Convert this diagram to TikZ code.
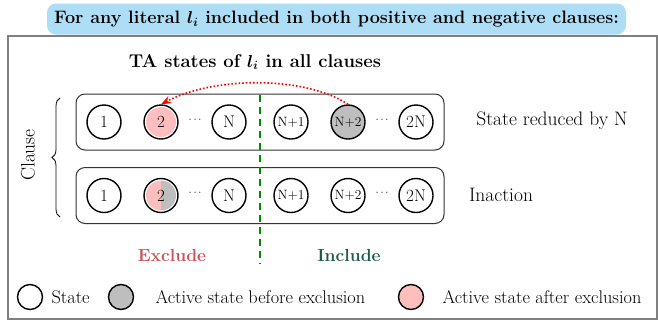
\documentclass[tikz,border=0pt]{standalone}
\usetikzlibrary{arrows.meta,decorations.pathreplacing}
\usepackage{amsmath,bm}
\definecolor{bannerblue}{RGB}{173,222,245}
\definecolor{actpink}{RGB}{255,190,190}
\definecolor{actgray}{RGB}{190,190,190}
\definecolor{exred}{RGB}{200,80,90}
\definecolor{ingreen}{RGB}{30,90,75}
\definecolor{divgreen}{RGB}{0,140,0}
\tikzset{
  state/.style={circle,draw,line width=1.4pt,minimum size=34pt,inner sep=0pt,
    font=\fontsize{17}{17}\selectfont},
  bigstate/.style={state,font=\fontsize{13.5}{13.5}\selectfont},
  keystate/.style={circle,draw,line width=1.4pt,minimum size=25pt,inner sep=0pt},
  rowbox/.style={draw=black!80,line width=1pt,rounded corners=9pt,
    minimum width=368pt,minimum height=56pt},
  label/.style={font=\fontsize{19.5}{19.5}\selectfont},
  keytext/.style={font=\fontsize{18.3}{18.3}\selectfont,anchor=west},
  dotsep/.style={font=\fontsize{11}{11}\selectfont}
}
\newcommand{\lit}{$\boldsymbol{l_i}$}
\begin{document}
\begin{tikzpicture}[x=1pt,y=-1pt,>=Stealth]
\useasboundingbox (0,0) rectangle (658,322);
    % outer frame and banner
    \draw [gray,line width=1.6pt] (8,36) rectangle (657,319);
    \node (title) [fill=bannerblue,rounded corners=9pt,minimum width=579pt,minimum height=31pt,
      font=\bfseries\fontsize{18}{18}\selectfont] at (336.5,19)
      {For any literal \lit{} included in both positive and negative clauses:};
    \node (head) [font=\bfseries\fontsize{18.5}{18.5}\selectfont] at (255,62) {TA states of \lit{} in all clauses};
    % clause rows
    \node (rowa) [rowbox] at (260,122) {};
    \node (rowb) [rowbox] at (260,195.5) {};
    \node (a1) [state] at (104,122) {1};
    \node (a2) [state,path picture={
        \fill[actpink] (path picture bounding box.center) circle (15pt);}]
      at (161,122) {2};
    \node (ad) [dotsep] at (196,120) {$\cdots$};
    \node (aN) [state] at (229,122) {N};
    \node (aN1) [bigstate] at (291,122) {N+1};
    \node (aN2) [bigstate,fill=actgray] at (348,122) {N+2};
    \node (ae) [dotsep] at (383,120) {$\cdots$};
    \node (a2N) [state] at (416,122) {2N};
    \node (b1) [state] at (104,195.5) {1};
    \node (b2) [state,path picture={
        \clip (path picture bounding box.center) circle (15pt);
        \fill[actpink] (path picture bounding box.south west) rectangle (path picture bounding box.north);
        \fill[actgray] (path picture bounding box.south) rectangle (path picture bounding box.north east);}]
      at (161,195.5) {2};
    \node (bd) [dotsep] at (196,193.5) {$\cdots$};
    \node (bN) [state] at (229,195.5) {N};
    \node (bN1) [bigstate] at (291,195.5) {N+1};
    \node (bN2) [bigstate] at (348,195.5) {N+2};
    \node (be) [dotsep] at (383,193.5) {$\cdots$};
    \node (b2N) [state] at (416,195.5) {2N};
    \node (reduced) [label] at (552,121) {State reduced by N};
    \node (inaction) [label] at (501,195) {Inaction};
    % brace and divider
    \coordinate (bracetop) at (60,98);
    \coordinate (bracebot) at (60,217);
    \draw [decorate,decoration={brace,amplitude=8pt},line width=0.8pt] (bracebot) -- (bracetop);
    \node (clause) [label,rotate=90] at (28,155) {Clause};
    \coordinate (divtop) at (260,95);
    \coordinate (divbot) at (260,264);
    \draw [divgreen,line width=1.4pt,dash pattern=on 7pt off 5pt] (divtop) -- (divbot);
    \draw [->,red,line width=1.6pt,dotted] (aN2.north) .. controls (305,76) and (215,76) .. (a2.north);
    \node (excl) [font=\bfseries\fontsize{17.5}{17.5}\selectfont,text=exred] at (172,255) {Exclude};
    \node (incl) [font=\bfseries\fontsize{17.5}{17.5}\selectfont,text=ingreen] at (349,255) {Include};
    % key
    \node (k1) [keystate] at (30,297) {};
    \node (k1t) [keytext] at (48,297) {State};
    \node (k2) [keystate,fill=actgray] at (121,297) {};
    \node (k2t) [keytext] at (152,297) {Active state before exclusion};
    \node (k3) [keystate,fill=actpink] at (411,297) {};
    \node (k3t) [keytext] at (439,297) {Active state after exclusion};
\end{tikzpicture}
\end{document}
